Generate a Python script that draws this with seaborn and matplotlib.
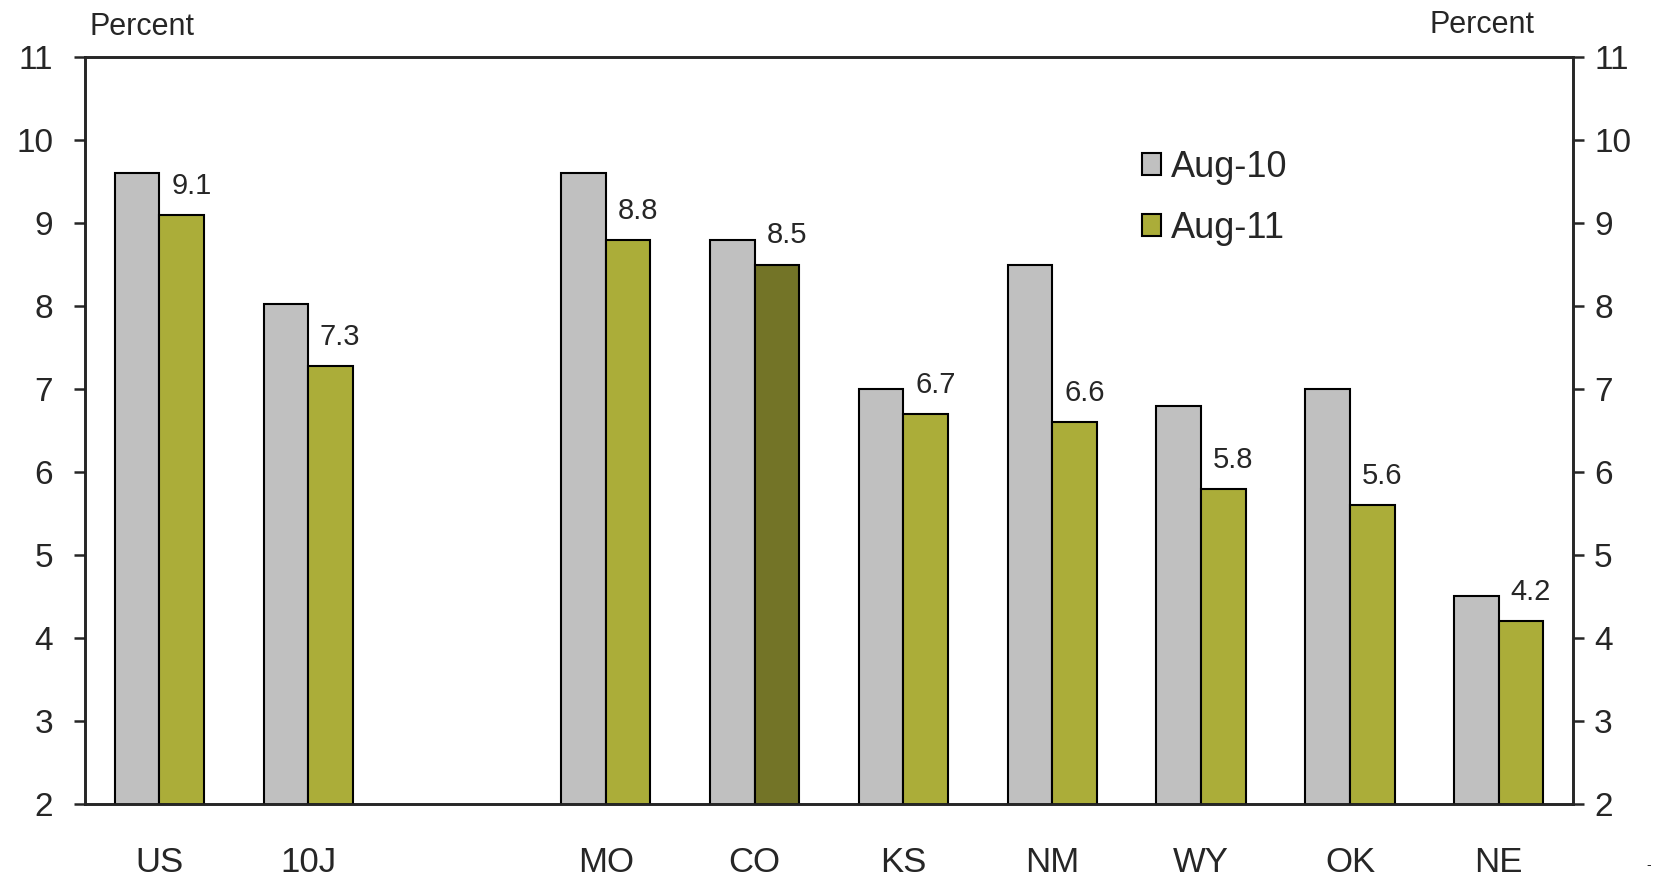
import matplotlib
matplotlib.use("Agg")
import matplotlib.pyplot as plt
from matplotlib.patches import Patch
import pandas as pd
import seaborn as sns

# categories on the x axis (blank slot separates the aggregates from the states)
categories = ["US", "10J", " ", "MO", "CO", "KS", "NM", "WY", "OK", "NE"]
states = ["US", "10J", "MO", "CO", "KS", "NM", "WY", "OK", "NE"]
aug10 = [9.6, 8.03, 9.6, 8.8, 7.0, 8.5, 6.8, 7.0, 4.5]
aug11 = [9.1, 7.28, 8.8, 8.5, 6.7, 6.6, 5.8, 5.6, 4.2]
labels11 = ["9.1", "7.3", "8.8", "8.5", "6.7", "6.6", "5.8", "5.6", "4.2"]
series = ["Aug-10", "Aug-11"]
yticks = [2, 3, 4, 5, 6, 7, 8, 9, 10, 11]

colors = ["#C0C0C0", "#ABAD39"]
highlight = "CO"
highlight_color = "#737427"

df = pd.DataFrame({
    "state": states * 2,
    "series": [series[0]] * len(states) + [series[1]] * len(states),
    "value": aug10 + aug11,
})

sns.set_style("ticks")
plt.rcParams["font.family"] = ["Liberation Sans", "DejaVu Sans"]

fig = plt.figure(figsize=(16.56, 8.8), dpi=100)
ax = fig.add_axes([0.0513, 0.0864, 0.8987, 0.8488])

sns.barplot(data=df, x="state", y="value", hue="series", order=categories,
            hue_order=series, palette=colors, width=0.6, edgecolor="black",
            linewidth=1.5, saturation=1, legend=False, ax=ax)

# darker shade for the highlighted state
for p in ax.containers[1]:
    i = round(p.get_x() + p.get_width() / 2 - 0.15)
    if categories[i] == highlight:
        p.set_facecolor(highlight_color)

for st, v, lab in zip(states, aug11, labels11):
    i = categories.index(st)
    ax.text(i + 0.215, v + 0.35, lab, ha="center", va="center", fontsize=21)

ax.set_ylim(2, 11)
ax.set_xlim(-0.5, len(categories) - 0.5)
ax.set_yticks(yticks)
ax.set_xlabel("")
ax.set_ylabel("")
for s in ax.spines.values():
    s.set_linewidth(1.8)
    s.set_color("black")
ax.tick_params(axis="x", length=0, pad=30, labelsize=25)
ax.tick_params(axis="y", direction="out", length=8, width=1.8, pad=15,
               labelsize=24)

ax2 = ax.twinx()
ax2.set_ylim(2, 11)
ax2.set_yticks(yticks)
ax2.tick_params(axis="y", direction="out", length=8, width=1.8, pad=7,
                labelsize=24)
for s in ax2.spines.values():
    s.set_linewidth(1.8)

handles = [Patch(facecolor=c, edgecolor="black", linewidth=1.5) for c in colors]
ax.legend(handles, series, loc="upper left", bbox_to_anchor=(0.71, 0.876),
          frameon=False, fontsize=26, handlelength=0.55, handleheight=0.55,
          handletextpad=0.25, labelspacing=0.72, borderpad=0, borderaxespad=0)

fig.text(90 / 1656, 1 - 35 / 880, "Percent", fontsize=22, ha="left",
         va="baseline")
fig.text(1430 / 1656, 1 - 33 / 880, "Percent", fontsize=22, ha="left",
         va="baseline")
fig.text(0.997, 0.012, "-", fontsize=10, ha="right")

fig.savefig("out.png", dpi=100)
